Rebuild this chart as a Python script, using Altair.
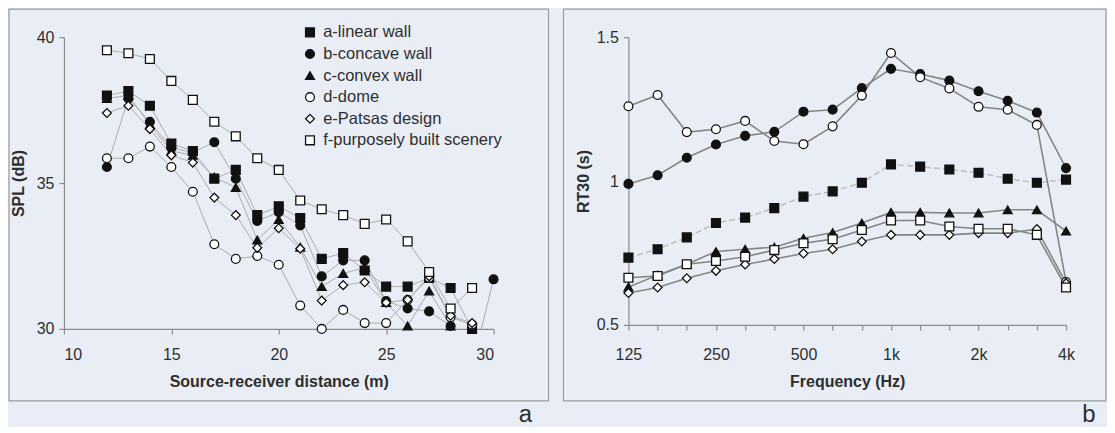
import altair as alt
import pandas as pd

# ---------------- data: panel a (SPL vs distance) ----------------
distance = list(range(12, 31))
spl_a = [38.0, 38.15, 37.65, 36.35, 36.1, 35.15, 35.45, 33.9, 34.2, 33.8, 32.4, 32.6, 32.0, 31.45, 31.45, 31.75, 31.4, 30.0, None]
spl_b = [35.55, 37.9, 37.1, 36.2, 36.05, 36.4, 35.15, 33.7, 34.0, 33.55, 31.8, 32.35, 32.35, 30.95, 30.7, 30.6, 30.1, 28.7, 31.7]
spl_c = [37.9, 38.0, 37.0, 36.1, 35.95, 35.2, 34.85, 33.05, 33.75, 32.8, 31.45, 31.9, 32.1, 30.9, 30.1, 31.3, 30.1, None, None]
spl_d = [35.85, 35.85, 36.25, 35.55, 34.7, 32.9, 32.4, 32.5, 32.2, 30.8, 30.0, 30.65, 30.2, 30.2, 31.0, 31.75, 30.4, 30.15, None]
spl_e = [37.4, 37.65, 36.85, 35.95, 35.7, 34.5, 33.9, 32.78, 33.45, 32.75, 30.97, 31.5, 31.6, 30.9, 31.0, 31.8, 30.45, 30.2, None]
spl_f = [39.55, 39.45, 39.25, 38.5, 37.85, 37.1, 36.6, 35.85, 35.45, 34.4, 34.1, 33.9, 33.6, 33.75, 33.0, 31.95, 30.7, 31.4, None]

# ---------------- data: panel b (RT30 vs frequency) ----------------
bands = ["125", "160", "200", "250", "315", "400", "500", "630", "800", "1k",
         "1.25k", "1.6k", "2k", "2.5k", "3.15k", "4k"]
shown_bands = ["125", "250", "500", "1k", "2k", "4k"]
rt_a = [0.734, 0.763, 0.804, 0.854, 0.873, 0.906, 0.946, 0.964, 0.994, 1.058, 1.05, 1.04, 1.029, 1.008, 0.994, 1.005]
rt_b = [0.99, 1.02, 1.081, 1.127, 1.157, 1.171, 1.241, 1.248, 1.323, 1.39, 1.372, 1.349, 1.312, 1.279, 1.238, 1.045]
rt_c = [0.632, 0.673, 0.711, 0.755, 0.763, 0.77, 0.801, 0.821, 0.854, 0.891, 0.891, 0.889, 0.889, 0.9, 0.9, 0.826]
rt_d = [1.26, 1.299, 1.17, 1.18, 1.209, 1.139, 1.128, 1.19, 1.297, 1.445, 1.361, 1.322, 1.258, 1.248, 1.195, 0.649]
rt_e = [0.611, 0.63, 0.662, 0.688, 0.71, 0.729, 0.748, 0.763, 0.79, 0.813, 0.813, 0.813, 0.819, 0.819, 0.833, 0.645]
rt_f = [0.664, 0.67, 0.711, 0.722, 0.737, 0.76, 0.784, 0.798, 0.83, 0.863, 0.863, 0.842, 0.834, 0.834, 0.813, 0.63]

series_names = ["a-linear wall", "b-concave wall", "c-convex wall",
                "d-dome", "e-Patsas design", "f-purposely built scenery"]
shapes = ["square", "circle", "triangle-up", "circle", "diamond", "square"]
fills = ["#111111", "#111111", "#111111", "white", "white", "white"]
strokes = ["#111111"] * 6

FONT = "Liberation Sans"
TXT = "#2e2e2e"
AX = "#8c8c8c"
FS = 16

# ---------------- long tables ----------------
rows = []
for name, vals in zip(series_names, [spl_a, spl_b, spl_c, spl_d, spl_e, spl_f]):
    for d, v in zip(distance, vals):
        if v is not None:
            rows.append({"series": name, "distance": d, "spl": v})
spl_df = pd.DataFrame(rows)
spl_pts = spl_df[spl_df["spl"] >= 30]

rows = []
for name, vals in zip(series_names, [rt_a, rt_b, rt_c, rt_d, rt_e, rt_f]):
    for b, v in zip(bands, vals):
        rows.append({"series": name, "band": b, "rt": v})
rt_df = pd.DataFrame(rows)

one = pd.DataFrame({"k": [0]})

shape_scale = alt.Scale(domain=series_names, range=shapes)
fill_scale = alt.Scale(domain=series_names, range=fills)
stroke_scale = alt.Scale(domain=series_names, range=strokes)

legend = alt.Legend(
    title=None, orient="none", legendX=238, legendY=-13, padding=0,
    labelFont=FONT, labelFontSize=16.5, labelColor=TXT, labelOffset=5,
    symbolSize=78, symbolStrokeWidth=1.3,
    rowPadding=4.6, labelLimit=400,
)

MS = 78  # marker size

# ---------------- panel a ----------------
xa = alt.X("distance:Q", scale=alt.Scale(domain=[10, 30], nice=False, zero=False),
           axis=alt.Axis(values=[10, 15, 20, 25, 30], title="Source-receiver distance (m)",
                         labelPadding=13, titlePadding=11))
ya = alt.Y("spl:Q", scale=alt.Scale(domain=[30, 40], nice=False, zero=False),
           axis=alt.Axis(values=[30, 35, 40], title="SPL (dB)", labelPadding=5, titlePadding=10))

frame_a = alt.Chart(one).mark_rect(fill=None, stroke="#9a9a9a", strokeWidth=1.2).encode(
    x=alt.value(-55), x2=alt.value(485), y=alt.value(-28), y2=alt.value(364))
lines_a = alt.Chart(spl_df).mark_line(color="#ababab", strokeWidth=1, clip=True).encode(
    x=xa, y=ya, detail="series:N")
pts_a = alt.Chart(spl_pts).mark_point(filled=False, size=MS, opacity=1,
                                      strokeWidth=1.3).encode(
    x=xa, y=ya,
    shape=alt.Shape("series:N", scale=shape_scale, legend=legend),
    fill=alt.Fill("series:N", scale=fill_scale, legend=legend),
    stroke=alt.Stroke("series:N", scale=stroke_scale, legend=legend),
)
label_a = alt.Chart(one).mark_text(text="a", font=FONT, fontSize=24, color=TXT,
                                   align="center", baseline="middle").encode(
    x=alt.value(462), y=alt.value(378))
left = alt.layer(frame_a, lines_a, pts_a, label_a).properties(width=430, height=292)

# ---------------- panel b ----------------
xb = alt.X("band:O", sort=bands, scale=alt.Scale(type="point", padding=0, domain=bands),
           axis=alt.Axis(title="Frequency (Hz)", labelAngle=0, labelPadding=17, titlePadding=11,
                         labelExpr="indexof(" + str(shown_bands) + ", datum.label) >= 0 ? datum.label : ''"))
yb = alt.Y("rt:Q", scale=alt.Scale(domain=[0.5, 1.5], nice=False, zero=False),
           axis=alt.Axis(values=[0.5, 1.0, 1.5], format=".1~f", title="RT30 (s)",
                         labelPadding=5, titlePadding=5))

frame_b = alt.Chart(one).mark_rect(fill=None, stroke="#9a9a9a", strokeWidth=1.2).encode(
    x=alt.value(-65), x2=alt.value(478), y=alt.value(-28), y2=alt.value(364))
lines_b_main = alt.Chart(rt_df[rt_df["series"] != series_names[0]]).mark_line(
    color="#858585", strokeWidth=1.6).encode(x=xb, y=yb, detail="series:N")
lines_b_a = alt.Chart(rt_df[rt_df["series"] == series_names[0]]).mark_line(
    color="#bdbdbd", strokeWidth=1.5, strokeDash=[6, 3]).encode(x=xb, y=yb)
pts_b = alt.Chart(rt_df).mark_point(filled=False, size=MS, opacity=1, stroke="#111111",
                                    strokeWidth=1.3).encode(
    x=xb, y=yb,
    shape=alt.Shape("series:N", scale=shape_scale, legend=None),
    fill=alt.Fill("series:N", scale=fill_scale, legend=None),
)
label_b = alt.Chart(one).mark_text(text="b", font=FONT, fontSize=24, color=TXT,
                                   align="center", baseline="middle").encode(
    x=alt.value(461), y=alt.value(378))
right = alt.layer(frame_b, lines_b_a, lines_b_main, pts_b, label_b).properties(width=438, height=288)

chart = alt.hconcat(left, right, spacing=135, bounds="flush").properties(
    padding={"left": 0, "top": 0, "right": 0, "bottom": 0}
).resolve_scale(shape="independent", fill="independent", stroke="independent").configure(
    background="#e9eef6"
).configure_view(stroke=None).configure_axis(
    grid=False, domainColor=AX, tickColor=AX, domainWidth=1.2, tickWidth=1.2, tickSize=5,
    labelFont=FONT, labelFontSize=FS, labelColor=TXT,
    titleFont=FONT, titleFontSize=FS, titleFontWeight="bold", titleColor=TXT,
)

chart.save("out.html", embed_options={"renderer": "svg", "actions": False})
